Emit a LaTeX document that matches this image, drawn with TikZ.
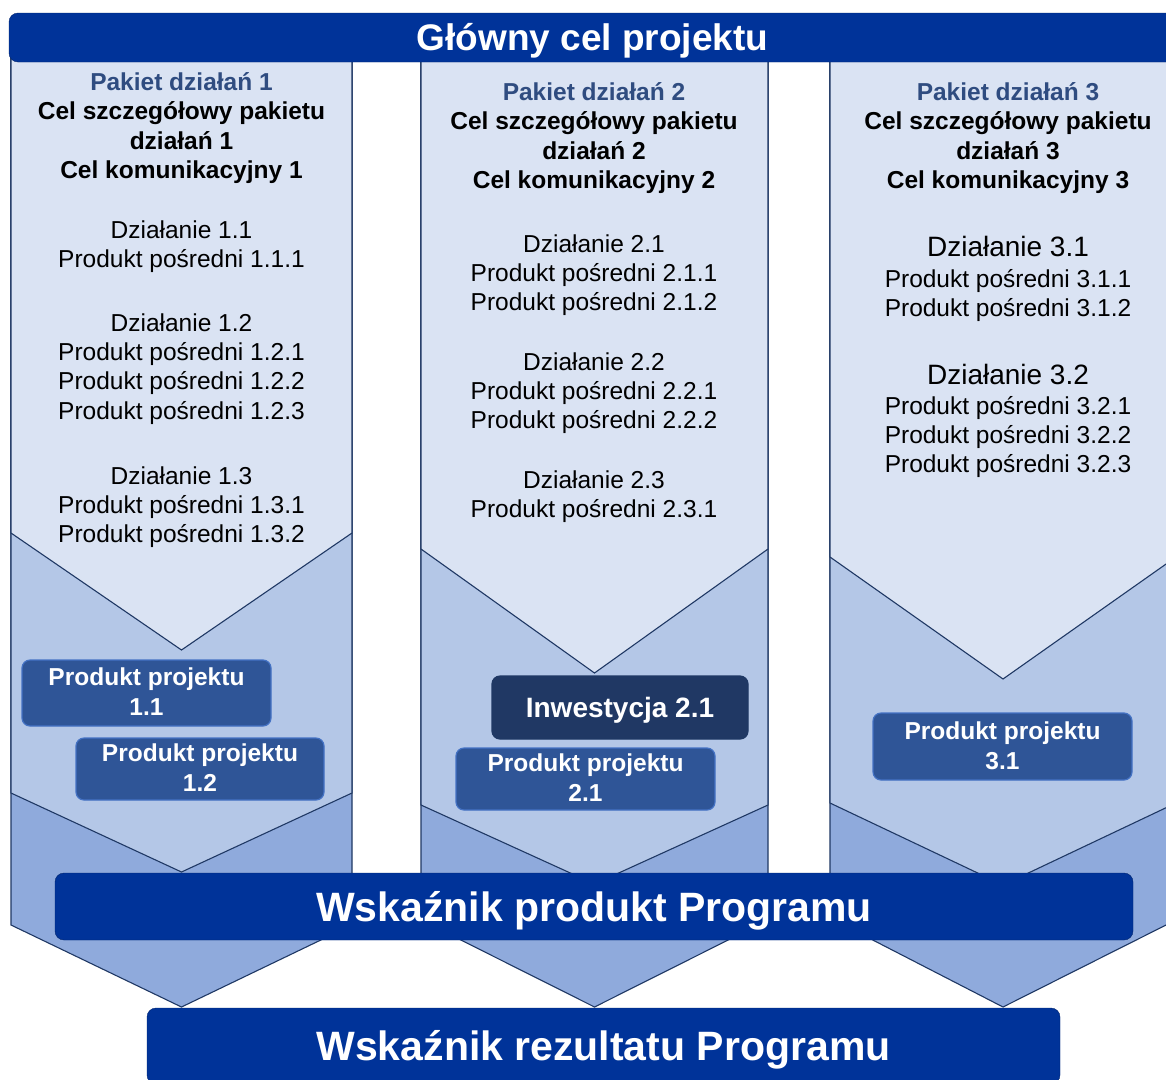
\documentclass[tikz,border=0pt]{standalone}
\usepackage{fontspec}
\setmainfont{Liberation Sans}
\usetikzlibrary{positioning}
\definecolor{cJasny}{RGB}{218,227,243}
\definecolor{cSredni}{RGB}{180,199,231}
\definecolor{cCiemny}{RGB}{143,170,220}
\definecolor{cLinia}{RGB}{31,56,100}
\definecolor{cPasek}{RGB}{0,51,153}
\definecolor{cPasekR}{RGB}{0,36,110}
\definecolor{cProd}{RGB}{47,85,151}
\definecolor{cProdR}{RGB}{68,114,196}
\definecolor{cInw}{RGB}{32,56,100}
\definecolor{cPakiet}{RGB}{47,76,128}
\newcommand{\dolnik}{\rule[-6pt]{0pt}{6pt}}

\begin{document}
\begin{tikzpicture}[
  x=1pt, y=-1pt,
  warstwa/.style  = {draw=cLinia, line width=1.1pt, line join=miter},
  pasek/.style    = {draw=cPasekR, fill=cPasek, rounded corners=9pt, text=white,
                     inner sep=0pt, text height=29.5pt, text depth=0pt,
                     font=\bfseries\fontsize{41}{48}\selectfont},
  naglowek/.style = {align=center, anchor=north, inner sep=0pt,
                     font=\bfseries\fontsize{24.5}{29.5}\selectfont},
  dzial/.style    = {align=center, anchor=north, inner sep=0pt,
                     font=\fontsize{24.5}{29.3}\selectfont},
  duzy/.style     = {inner sep=0pt, font=\fontsize{28}{33}\selectfont},
  produkt/.style  = {draw=cProdR, fill=cProd, line width=1.2pt, rounded corners=8pt,
                     text=white, align=center, inner sep=0pt,
                     font=\bfseries\fontsize{24.5}{30}\selectfont},
  inwest/.style   = {draw=cLinia, fill=cInw, line width=1.2pt, rounded corners=8pt,
                     text=white, inner sep=0pt, text height=20.2pt, text depth=0pt,
                     font=\bfseries\fontsize{28}{33}\selectfont}
]
\useasboundingbox (0,0) rectangle (1166,1079);

% ----------------------------------------------------- kolumny, trzy warstwy --
\draw[warstwa, fill=cCiemny] (11,58) -- (352,58) -- (352,925) -- (181.5,1007) -- (11,925) -- cycle;
\draw[warstwa, fill=cSredni] (11,58) -- (352,58) -- (352,793) -- (181.5,872) -- (11,793) -- cycle;
\draw[warstwa, fill=cJasny]  (11,58) -- (352,58) -- (352,533) -- (181.5,650) -- (11,533) -- cycle;

\draw[warstwa, fill=cCiemny] (421,58) -- (768,58) -- (768,920) -- (594.5,1007) -- (421,920) -- cycle;
\draw[warstwa, fill=cSredni] (421,58) -- (768,58) -- (768,805) -- (594.5,884) -- (421,805) -- cycle;
\draw[warstwa, fill=cJasny]  (421,58) -- (768,58) -- (768,549) -- (594.5,673) -- (421,549) -- cycle;

\draw[warstwa, fill=cCiemny] (830,58) -- (1176,58) -- (1176,920) -- (1003,1007) -- (830,918) -- cycle;
\draw[warstwa, fill=cSredni] (830,58) -- (1176,58) -- (1176,803) -- (1003,885) -- (830,803) -- cycle;
\draw[warstwa, fill=cJasny]  (830,58) -- (1176,58) -- (1176,557) -- (1003,679) -- (830,557) -- cycle;

% --------------------------------------------------------------- cel glowny --
\node[pasek, minimum width=1167pt, minimum height=49pt, text height=26.6pt,
      font=\bfseries\fontsize{37}{44}\selectfont] (glowny) at (592.5,37.5) {Główny cel projektu};

% ------------------------------------------------------------- pakiet 1 --
\node[naglowek] (pak1) at (181.5,69.5) {\strut{\color{cPakiet}Pakiet działań 1}\\Cel szczegółowy pakietu\\działań 1\\Cel komunikacyjny 1};
\node[dzial] (dz11) at (181.5,217.5) {\strut Działanie 1.1\\Produkt pośredni 1.1.1};
\node[dzial] (dz12) at (181.5,310.5) {\strut Działanie 1.2\\Produkt pośredni 1.2.1\\Produkt pośredni 1.2.2\\Produkt pośredni 1.2.3};
\node[dzial] (dz13) at (181.5,463.5) {\strut Działanie 1.3\\Produkt pośredni 1.3.1\\Produkt pośredni 1.3.2};

% ------------------------------------------------------------- pakiet 2 --
\node[naglowek] (pak2) at (594,79.5) {\strut{\color{cPakiet}Pakiet działań 2}\\Cel szczegółowy pakietu\\działań 2\\Cel komunikacyjny 2};
\node[dzial] (dz21) at (594,231.5) {\strut Działanie 2.1\\Produkt pośredni 2.1.1\\Produkt pośredni 2.1.2};
\node[dzial] (dz22) at (594,349.5) {\strut Działanie 2.2\\Produkt pośredni 2.2.1\\Produkt pośredni 2.2.2};
\node[dzial] (dz23) at (594,467.5) {\strut Działanie 2.3\\Produkt pośredni 2.3.1};

% ------------------------------------------------------------- pakiet 3 --
\node[naglowek] (pak3) at (1008,79.5) {\strut{\color{cPakiet}Pakiet działań 3}\\Cel szczegółowy pakietu\\działań 3\\Cel komunikacyjny 3};
\node[duzy] (dz31) at (1008,246) {Działanie 3.1};
\node[dzial] (pp31) at (1008,266.5) {\strut Produkt pośredni 3.1.1\\Produkt pośredni 3.1.2};
\node[duzy] (dz32) at (1008,374) {Działanie 3.2};
\node[dzial] (pp32) at (1008,393.5) {\strut Produkt pośredni 3.2.1\\Produkt pośredni 3.2.2\\Produkt pośredni 3.2.3};

% ------------------------------------------------------- produkty projektu --
\node[produkt, minimum width=249pt, minimum height=66pt] (pr11) at (146.5,693) {\strut Produkt projektu\\1.1\dolnik};
\node[produkt, minimum width=248pt, minimum height=62pt] (pr12) at (200,769) {\strut Produkt projektu\\1.2\dolnik};
\node[inwest,  minimum width=256pt, minimum height=63pt] (inw21) at (620,707.5) {Inwestycja 2.1};
\node[produkt, minimum width=259pt, minimum height=62pt] (pr21) at (585.5,779) {\strut Produkt projektu\\2.1\dolnik};
\node[produkt, minimum width=259pt, minimum height=67pt] (pr31) at (1002.5,746.5) {\strut Produkt projektu\\3.1\dolnik};

% -------------------------------------------------------------- wskazniki --
\node[pasek, minimum width=1078pt, minimum height=67pt] (wskProd) at (594,906.5) {Wskaźnik produkt Programu};
\node[pasek, minimum width=913pt,  minimum height=76pt] (wskRez)  at (603.5,1046) {Wskaźnik rezultatu Programu};

\end{tikzpicture}
\end{document}
